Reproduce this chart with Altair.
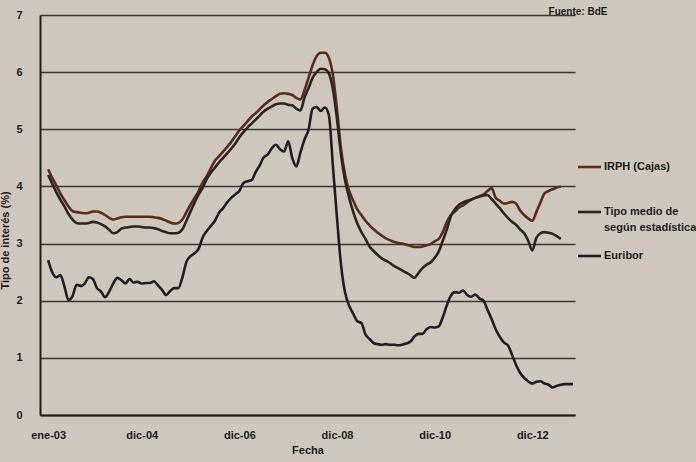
import altair as alt
import pandas as pd

# Monthly series, Jan 2003 onward (index 0 = ene-03)
irph = [4.30, 4.15, 4.02, 3.88, 3.76, 3.65, 3.57, 3.55, 3.54, 3.53, 3.54, 3.56,
        3.56, 3.54, 3.50, 3.45, 3.42, 3.44, 3.46, 3.47, 3.47, 3.47, 3.47, 3.47,
        3.47, 3.47, 3.46, 3.45, 3.43, 3.40, 3.37, 3.35, 3.36, 3.42, 3.55, 3.68,
        3.80, 3.92, 4.07, 4.18, 4.32, 4.45, 4.53, 4.61, 4.69, 4.78, 4.88, 4.98,
        5.06, 5.14, 5.22, 5.28, 5.35, 5.42, 5.48, 5.53, 5.58, 5.62, 5.63, 5.62,
        5.60, 5.55, 5.52, 5.68, 5.90, 6.12, 6.28, 6.34, 6.34, 6.25, 5.95, 5.35,
        4.65, 4.20, 3.92, 3.75, 3.60, 3.50, 3.40, 3.32, 3.25, 3.19, 3.14, 3.09,
        3.06, 3.03, 3.01, 3.00, 2.98, 2.96, 2.94, 2.94, 2.95, 2.97, 2.99, 3.04,
        3.08, 3.20, 3.38, 3.50, 3.56, 3.63, 3.67, 3.72, 3.77, 3.80, 3.83, 3.86,
        3.92, 3.97, 3.80, 3.75, 3.70, 3.71, 3.73, 3.70, 3.58, 3.50, 3.44, 3.40,
        3.55, 3.72, 3.88, 3.92, 3.95, 3.98, 4.00]

tipo_medio = [4.20, 4.05, 3.90, 3.77, 3.65, 3.52, 3.42, 3.36, 3.35, 3.35, 3.36, 3.38,
              3.37, 3.34, 3.30, 3.24, 3.18, 3.20, 3.26, 3.28, 3.29, 3.30, 3.30, 3.29,
              3.28, 3.28, 3.27, 3.25, 3.22, 3.20, 3.18, 3.18, 3.19, 3.25, 3.40, 3.56,
              3.72, 3.86, 3.98, 4.13, 4.24, 4.33, 4.42, 4.50, 4.58, 4.66, 4.75, 4.86,
              4.95, 5.03, 5.10, 5.17, 5.24, 5.31, 5.36, 5.40, 5.44, 5.45, 5.45, 5.43,
              5.42, 5.36, 5.33, 5.55, 5.72, 5.90, 6.00, 6.06, 6.05, 5.98, 5.70, 5.18,
              4.55, 4.10, 3.80, 3.55, 3.35, 3.20, 3.08, 2.95, 2.87, 2.80, 2.74, 2.70,
              2.66, 2.61, 2.57, 2.53, 2.49, 2.45, 2.40, 2.48, 2.57, 2.63, 2.67, 2.75,
              2.86, 3.05, 3.25, 3.48, 3.60, 3.68, 3.72, 3.75, 3.77, 3.80, 3.82, 3.84,
              3.85, 3.78, 3.70, 3.62, 3.53, 3.45, 3.38, 3.33, 3.25, 3.18, 3.05, 2.88,
              3.10, 3.18, 3.20, 3.19, 3.17, 3.13, 3.08]

euribor = [2.71, 2.50, 2.41, 2.45, 2.25, 2.01, 2.08, 2.28, 2.26, 2.30, 2.41, 2.38,
           2.22, 2.16, 2.06, 2.16, 2.30, 2.40, 2.36, 2.30, 2.38, 2.32, 2.33, 2.30,
           2.31, 2.31, 2.34, 2.27, 2.19, 2.10, 2.17, 2.22, 2.22, 2.41, 2.68, 2.78,
           2.83, 2.91, 3.11, 3.22, 3.31, 3.40, 3.54, 3.62, 3.72, 3.80, 3.86, 3.92,
           4.06, 4.09, 4.11, 4.25, 4.37, 4.51, 4.56, 4.67, 4.73, 4.65, 4.61, 4.79,
           4.50, 4.35, 4.59, 4.82, 4.99, 5.36, 5.39, 5.32, 5.38, 5.25, 4.35, 3.45,
           2.62, 2.14, 1.91, 1.77, 1.64, 1.61, 1.41, 1.33, 1.26, 1.24, 1.23, 1.24,
           1.23, 1.23, 1.22, 1.23, 1.25, 1.28, 1.37, 1.42, 1.42, 1.50, 1.54, 1.53,
           1.55, 1.71, 1.92, 2.09, 2.15, 2.14, 2.18, 2.10, 2.07, 2.11, 2.04, 2.00,
           1.84, 1.68, 1.50, 1.37, 1.27, 1.22, 1.06, 0.88, 0.74, 0.65, 0.59, 0.55,
           0.58, 0.59, 0.55, 0.53, 0.48, 0.51, 0.53, 0.54, 0.54, 0.54]

series_names = ["IRPH (Cajas)", "Tipo medio de los préstamos", "Euribor"]
series_colors = ["#5a2c1c", "#2a2521", "#1f1c24"]
tick_idx = [0, 23, 47, 71, 95, 119]
tick_lab = ["ene-03", "dic-04", "dic-06", "dic-08", "dic-10", "dic-12"]

rows = []
for name, vals in zip(series_names, [irph, tipo_medio, euribor]):
    for i, v in enumerate(vals):
        rows.append({"mes": i, "tipo": v, "serie": name})
df = pd.DataFrame(rows)

label_expr = " : ".join(
    f"datum.value == {i} ? '{l}'" for i, l in zip(tick_idx, tick_lab)
) + " : ''"

FONT = "Liberation Sans"
INK = "#1e1c1a"
W, H = 535, 400

lines = alt.Chart(df).mark_line(strokeWidth=2.6, interpolate="monotone").encode(
    x=alt.X("mes:Q", scale=alt.Scale(domain=[-2, 129.5], nice=False, zero=False),
            axis=alt.Axis(values=tick_idx, labelExpr=label_expr, grid=False, ticks=False,
                          title="Fecha", labelPadding=14, titlePadding=4,
                          domainColor=INK, domainWidth=2)),
    y=alt.Y("tipo:Q", scale=alt.Scale(domain=[0, 7], nice=False),
            axis=alt.Axis(values=list(range(8)), grid=True, ticks=False, format="d",
                          title="Tipo de interés (%)", labelPadding=18,
                          titleX=-30, titleY=225, domainColor=INK, domainWidth=2,
                          gridColor="#3b3835", gridWidth=1.4)),
    color=alt.Color("serie:N", scale=alt.Scale(domain=series_names, range=series_colors),
                    legend=None),
    detail="serie:N",
)

one = pd.DataFrame({"k": [0]})
legend_layers = []
leg_y = [152, 197, 241]
for name, col, yy in zip(series_names, series_colors, leg_y):
    legend_layers.append(
        alt.Chart(one).mark_rule(color=col, strokeWidth=2.6).encode(
            x=alt.value(538), x2=alt.value(561), y=alt.value(yy))
    )
    legend_layers.append(
        alt.Chart(one).mark_text(align="left", baseline="middle", font=FONT,
                                 fontSize=11, fontWeight="bold", color=INK,
                                 text="Tipo medio de" if name.startswith("Tipo") else name).encode(
            x=alt.value(564), y=alt.value(yy))
    )
legend_layers.append(
    alt.Chart(one).mark_text(align="left", baseline="middle", font=FONT, fontSize=11,
                             fontWeight="bold", color=INK,
                             text="según estadística").encode(
        x=alt.value(564), y=alt.value(213))
)
fuente = alt.Chart(one).mark_text(align="center", baseline="middle", font=FONT, fontSize=10,
                                  fontWeight="bold", color=INK, text="Fuente: BdE").encode(
    x=alt.value(538), y=alt.value(-3))

chart = alt.layer(lines, *legend_layers, fuente).properties(
    width=W, height=H,
    padding={"left": 40, "top": 15, "right": 121, "bottom": 47},
    autosize=alt.AutoSizeParams(type="none"),
    background="#cdc7bd",
).configure_view(stroke=None).configure_axis(
    labelFont=FONT, titleFont=FONT, labelFontSize=11, titleFontSize=11,
    labelFontWeight="bold", titleFontWeight="bold", labelColor=INK, titleColor=INK,
)

chart.save("out.html", embed_options={"renderer": "svg", "actions": False})
